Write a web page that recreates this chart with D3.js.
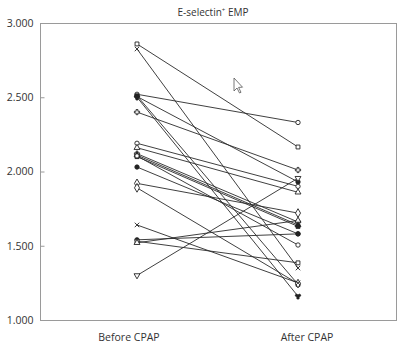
<!DOCTYPE html>
<html>
<head>
<meta charset="utf-8">
<script src="https://cdn.jsdelivr.net/npm/d3@7"></script>
<style>
  body { margin: 0; background: #fff; }
  text { font-family: "Open Sans", sans-serif; fill: #333; }
</style>
</head>
<body>
<div id="chart"></div>
<script>
// E-selectin+ EMP, one line per patient, before and after CPAP

let groups = ["Before CPAP", "After CPAP"];
let yTicks = [1.0, 1.5, 2.0, 2.5, 3.0];

// paired values
let before = [2.859, 2.825, 2.520, 2.510, 2.500, 2.505, 2.400, 2.190, 2.160, 2.120,
              2.110, 2.100, 2.105, 2.030, 1.920, 1.890, 1.640, 1.540, 1.530, 1.520, 1.300];
let after  = [2.165, 1.350, 2.330, 1.240, 1.160, 1.930, 2.010, 1.900, 1.860, 1.660,
              1.640, 1.630, 1.505, 1.580, 1.720, 1.245, 1.250, 1.580, 1.385, 1.670, 1.955];
// marker per patient: [symbol, filled]
let markers = [
  ["square", false], ["star", false], ["circle", false], ["square", true], ["wye", true],
  ["circle", true], ["cross", false], ["circle", false], ["triangle", false], ["cross", false],
  ["triangle", true], ["square", true], ["circle", false], ["circle", true], ["diamond", false],
  ["diamond", false], ["star", false], ["circle", true], ["square", false], ["triangle", false],
  ["triangle2", false]
];

let width = 402, height = 349;
let frame = {left: 40, right: 396, top: 23, bottom: 320};

let svg = d3.select("#chart").append("svg")
  .attr("width", width)
  .attr("height", height);

let yScale = d3.scaleLinear().domain([1, 3]).range([frame.bottom, frame.top]);
// category labels sit in the middle of each half
let labelScale = d3.scalePoint().domain(groups).range([frame.left, frame.right]).padding(0.5);
// the markers are drawn a little inside the label positions
let xScale = d3.scaleLinear().domain([0, 1]).range([137, 298]);

// frame
svg.append("rect")
  .attr("x", frame.left + 0.5)
  .attr("y", frame.top + 0.5)
  .attr("width", frame.right - frame.left)
  .attr("height", frame.bottom - frame.top)
  .attr("fill", "none")
  .attr("stroke", "#9a9a9a")
  .attr("stroke-width", 1);

// y axis, ticks pointing inward
let yAxis = svg.append("g")
  .attr("transform", `translate(${frame.left + 0.5},0)`)
  .call(d3.axisRight(yScale).tickValues(yTicks).tickSize(4).tickFormat(d3.format(".3f")));
yAxis.select(".domain").remove();
yAxis.selectAll(".tick line").attr("stroke", "#9a9a9a");
yAxis.selectAll(".tick text")
  .attr("x", -7)
  .attr("text-anchor", "end")
  .style("font-size", "10.5px")
  .style("fill", "#333");

// x labels
svg.append("g").selectAll("text")
  .data(groups)
  .enter()
  .append("text")
  .attr("x", d => labelScale(d))
  .attr("y", 341)
  .attr("text-anchor", "middle")
  .style("font-size", "10.5px")
  .text(d => d);

// title
let title = svg.append("text")
  .attr("x", 213)
  .attr("y", 16)
  .attr("text-anchor", "middle")
  .style("font-size", "10px");
title.append("tspan").text("E-selectin");
title.append("tspan").attr("dy", -4).style("font-size", "6px").text("+");
title.append("tspan").attr("dy", 4).text(" EMP");

// patient lines
svg.append("g")
  .selectAll("line")
  .data(before)
  .enter()
  .append("line")
  .attr("x1", xScale(0))
  .attr("x2", xScale(1))
  .attr("y1", d => yScale(d))
  .attr("y2", (d, i) => yScale(after[i]))
  .attr("stroke", "#2a2a2a")
  .attr("stroke-width", 0.9);

// markers at both ends
let symbolTypes = {
  square: d3.symbolSquare, star: d3.symbolTimes, circle: d3.symbolCircle,
  wye: d3.symbolWye, cross: d3.symbolCross, triangle: d3.symbolTriangle,
  diamond: d3.symbolDiamond, triangle2: d3.symbolTriangle
};
let points = [];
before.forEach((v, i) => {
  points.push({x: 0, v: v, m: markers[i]});
  points.push({x: 1, v: after[i], m: markers[i]});
});

svg.append("g")
  .selectAll("path")
  .data(points)
  .enter()
  .append("path")
  .attr("transform", d => `translate(${xScale(d.x)},${yScale(d.v)})` + (d.m[0] == "triangle2" ? " rotate(180)" : ""))
  .attr("d", d => d3.symbol().type(symbolTypes[d.m[0]]).size(d.m[0] == "diamond" ? 22 : 15)())
  .attr("fill", d => d.m[1] ? "#222" : "#fff")
  .attr("stroke", "#222")
  .attr("stroke-width", 0.9);

// mouse pointer left in the screenshot
svg.append("path")
  .attr("d", "M234,78 L234,91 L237,88 L239.5,93 L241,92.3 L238.6,87.4 L242.5,87.2 Z")
  .attr("fill", "#fff")
  .attr("stroke", "#555")
  .attr("stroke-width", 0.8);
</script>
</body>
</html>
